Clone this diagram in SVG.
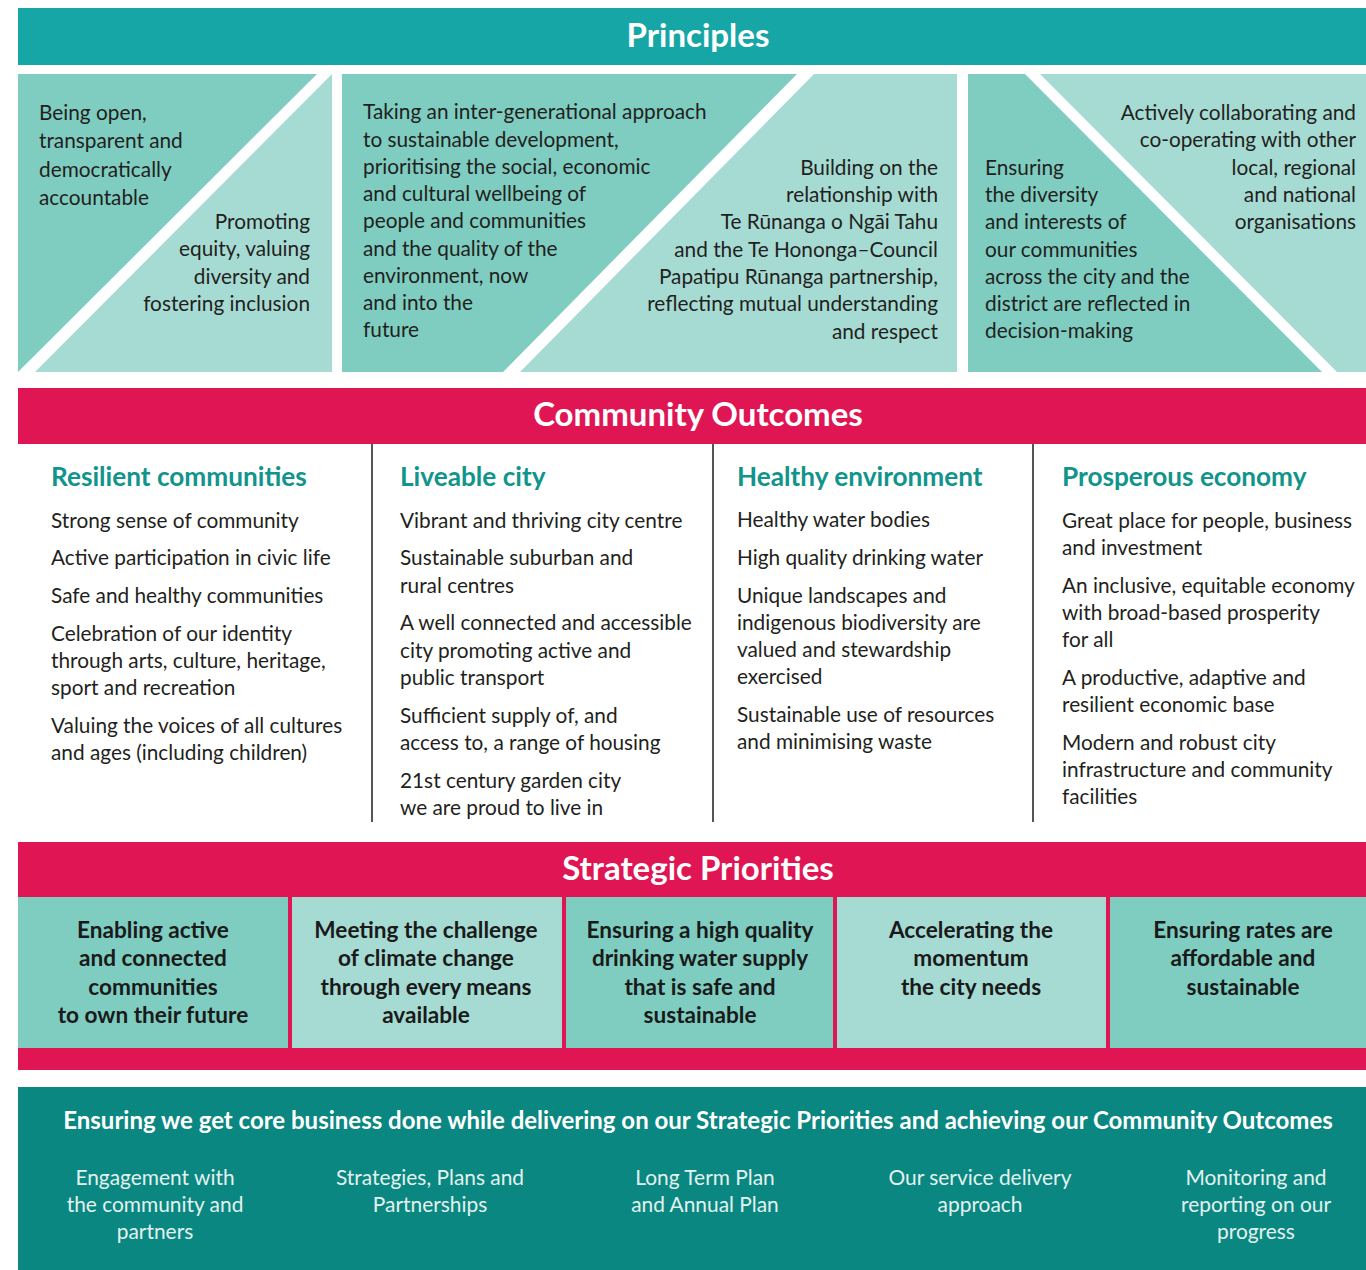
<svg xmlns="http://www.w3.org/2000/svg" width="1366" height="1270" viewBox="0 0 1366 1270">
<style>
.t{font-family:Lato,"Noto Sans","Liberation Sans",sans-serif;font-size:20.8px;fill:#231f20}
.r{text-anchor:end}
.m{text-anchor:middle}
.hd{font-family:Lato,"Noto Sans","Liberation Sans",sans-serif;font-weight:bold;font-size:33px;fill:#fff;text-anchor:middle}
.ch{font-family:Lato,"Noto Sans","Liberation Sans",sans-serif;font-weight:bold;font-size:26.2px;fill:#10948c}
.sp{font-family:Lato,"Noto Sans","Liberation Sans",sans-serif;font-weight:bold;font-size:22.6px;fill:#1a1a1a;text-anchor:middle}
.bt{font-family:Lato,"Noto Sans","Liberation Sans",sans-serif;font-size:20.9px;fill:#e2f2ef;text-anchor:middle}
.dk{fill:#7ecdc0}
.lt{fill:#a6dbd3}
.red{fill:#e01553}
.div{stroke:#555;stroke-width:2}
.wdiv{stroke:#fff;stroke-width:3}
</style>
<rect width="1366" height="1270" fill="#fff"/>

<g id="principles-header">
<rect x="18" y="8" width="1348" height="57" fill="#16a6a6"/>
<text class="hd" x="698" y="47">Principles</text>
</g>

<g id="principle-1">
<polygon class="dk" points="18,74 317,74 18,372"/>
<polygon class="lt" points="332,74 332,372 35,372"/>
<text class="t" x="39" y="120">Being open,</text>
<text class="t" x="39" y="148">transparent and</text>
<text class="t" x="39" y="177">democratically</text>
<text class="t" x="39" y="205">accountable</text>
</g>
<g id="principle-2">
<text class="t r" x="310" y="229">Promoting</text>
<text class="t r" x="310" y="256">equity, valuing</text>
<text class="t r" x="310" y="284">diversity and</text>
<text class="t r" x="310" y="311">fostering inclusion</text>
</g>

<g id="principle-3">
<polygon class="dk" points="342,74 797,74 503,372 342,372"/>
<polygon class="lt" points="814,74 957,74 957,372 520,372"/>
<text class="t" x="363" y="119">Taking an inter-generational approach</text>
<text class="t" x="363" y="147">to sustainable development,</text>
<text class="t" x="363" y="174">prioritising the social, economic</text>
<text class="t" x="363" y="201">and cultural wellbeing of</text>
<text class="t" x="363" y="228">people and communities</text>
<text class="t" x="363" y="256">and the quality of the</text>
<text class="t" x="363" y="283">environment, now</text>
<text class="t" x="363" y="310">and into the</text>
<text class="t" x="363" y="337">future</text>
</g>
<g id="principle-4">
<text class="t r" x="938" y="175">Building on the</text>
<text class="t r" x="938" y="202">relationship with</text>
<text class="t r" x="938" y="229">Te Rūnanga o Ngāi Tahu</text>
<text class="t r" x="938" y="257">and the Te Hononga–Council</text>
<text class="t r" x="938" y="284">Papatipu Rūnanga partnership,</text>
<text class="t r" x="938" y="311">reflecting mutual understanding</text>
<text class="t r" x="938" y="339">and respect</text>
</g>

<g id="principle-5">
<polygon class="dk" points="968,74 1025,74 1322,372 968,372"/>
<polygon class="lt" points="1040,74 1366,74 1366,372 1337,372"/>
<text class="t" x="985" y="175">Ensuring</text>
<text class="t" x="985" y="202">the diversity</text>
<text class="t" x="985" y="229">and interests of</text>
<text class="t" x="985" y="257">our communities</text>
<text class="t" x="985" y="284">across the city and the</text>
<text class="t" x="985" y="311">district are reflected in</text>
<text class="t" x="985" y="338">decision-making</text>
</g>
<g id="principle-6">
<text class="t r" x="1356" y="120">Actively collaborating and</text>
<text class="t r" x="1356" y="147">co-operating with other</text>
<text class="t r" x="1356" y="175">local, regional</text>
<text class="t r" x="1356" y="202">and national</text>
<text class="t r" x="1356" y="229">organisations</text>
</g>

<g id="outcomes-header">
<rect class="red" x="18" y="388" width="1348" height="56"/>
<text class="hd" x="698" y="426">Community Outcomes</text>
</g>

<g id="connectors">
<line class="div" x1="372" y1="444" x2="372" y2="822"/>
<line class="div" x1="713" y1="444" x2="713" y2="822"/>
<line class="div" x1="1033" y1="444" x2="1033" y2="822"/>
<line class="wdiv" x1="293" y1="1150" x2="293" y2="1262"/>
<line class="wdiv" x1="568" y1="1150" x2="568" y2="1262"/>
<line class="wdiv" x1="843" y1="1150" x2="843" y2="1262"/>
<line class="wdiv" x1="1118" y1="1150" x2="1118" y2="1262"/>
</g>

<g id="outcome-resilient">
<text class="ch" x="51" y="486">Resilient communities</text>
<text class="t" x="51" y="528">Strong sense of community</text>
<text class="t" x="51" y="565">Active participation in civic life</text>
<text class="t" x="51" y="603">Safe and healthy communities</text>
<text class="t" x="51" y="641">Celebration of our identity</text>
<text class="t" x="51" y="668">through arts, culture, heritage,</text>
<text class="t" x="51" y="695">sport and recreation</text>
<text class="t" x="51" y="733">Valuing the voices of all cultures</text>
<text class="t" x="51" y="760">and ages (including children)</text>
</g>

<g id="outcome-liveable">
<text class="ch" x="400" y="486">Liveable city</text>
<text class="t" x="400" y="528">Vibrant and thriving city centre</text>
<text class="t" x="400" y="565">Sustainable suburban and</text>
<text class="t" x="400" y="593">rural centres</text>
<text class="t" x="400" y="630">A well connected and accessible</text>
<text class="t" x="400" y="658">city promoting active and</text>
<text class="t" x="400" y="685">public transport</text>
<text class="t" x="400" y="723">Sufficient supply of, and</text>
<text class="t" x="400" y="750">access to, a range of housing</text>
<text class="t" x="400" y="788">21st century garden city</text>
<text class="t" x="400" y="815">we are proud to live in</text>
</g>

<g id="outcome-healthy">
<text class="ch" x="737" y="486">Healthy environment</text>
<text class="t" x="737" y="527">Healthy water bodies</text>
<text class="t" x="737" y="565">High quality drinking water</text>
<text class="t" x="737" y="603">Unique landscapes and</text>
<text class="t" x="737" y="630">indigenous biodiversity are</text>
<text class="t" x="737" y="657">valued and stewardship</text>
<text class="t" x="737" y="684">exercised</text>
<text class="t" x="737" y="722">Sustainable use of resources</text>
<text class="t" x="737" y="749">and minimising waste</text>
</g>

<g id="outcome-prosperous">
<text class="ch" x="1062" y="486">Prosperous economy</text>
<text class="t" x="1062" y="528">Great place for people, business</text>
<text class="t" x="1062" y="555">and investment</text>
<text class="t" x="1062" y="593">An inclusive, equitable economy</text>
<text class="t" x="1062" y="620">with broad-based prosperity</text>
<text class="t" x="1062" y="647">for all</text>
<text class="t" x="1062" y="685">A productive, adaptive and</text>
<text class="t" x="1062" y="712">resilient economic base</text>
<text class="t" x="1062" y="750">Modern and robust city</text>
<text class="t" x="1062" y="777">infrastructure and community</text>
<text class="t" x="1062" y="804">facilities</text>
</g>

<g id="priorities-header">
<rect class="red" x="18" y="842" width="1348" height="228"/>
<text class="hd" x="698" y="880">Strategic Priorities</text>
</g>

<g id="priority-1">
<rect class="dk" x="18" y="897" width="270" height="151"/>
<text class="sp" x="153" y="938">Enabling active</text>
<text class="sp" x="153" y="966">and connected</text>
<text class="sp" x="153" y="995">communities</text>
<text class="sp" x="153" y="1023">to own their future</text>
</g>
<g id="priority-2">
<rect class="lt" x="292" y="897" width="270" height="151"/>
<text class="sp" x="426" y="938">Meeting the challenge</text>
<text class="sp" x="426" y="966">of climate change</text>
<text class="sp" x="426" y="995">through every means</text>
<text class="sp" x="426" y="1023">available</text>
</g>
<g id="priority-3">
<rect class="dk" x="566" y="897" width="267" height="151"/>
<text class="sp" x="700" y="938">Ensuring a high quality</text>
<text class="sp" x="700" y="966">drinking water supply</text>
<text class="sp" x="700" y="995">that is safe and</text>
<text class="sp" x="700" y="1023">sustainable</text>
</g>
<g id="priority-4">
<rect class="lt" x="837" y="897" width="269" height="151"/>
<text class="sp" x="971" y="938">Accelerating the</text>
<text class="sp" x="971" y="966">momentum</text>
<text class="sp" x="971" y="995">the city needs</text>
</g>
<g id="priority-5">
<rect class="dk" x="1110" y="897" width="256" height="151"/>
<text class="sp" x="1243" y="938">Ensuring rates are</text>
<text class="sp" x="1243" y="966">affordable and</text>
<text class="sp" x="1243" y="995">sustainable</text>
</g>

<g id="core-business">
<rect x="18" y="1087" width="1348" height="183" fill="#0b8781"/>
<text x="698" y="1129" style="font-family:Lato,'Noto Sans','Liberation Sans',sans-serif;font-weight:bold;font-size:24px;fill:#fff;text-anchor:middle">Ensuring we get core business done while delivering on our Strategic Priorities and achieving our Community Outcomes</text>
</g>
<g id="core-1">
<text class="bt" x="155" y="1185">Engagement with</text>
<text class="bt" x="155" y="1212">the community and</text>
<text class="bt" x="155" y="1239">partners</text>
</g>
<g id="core-2">
<text class="bt" x="430" y="1185">Strategies, Plans and</text>
<text class="bt" x="430" y="1212">Partnerships</text>
</g>
<g id="core-3">
<text class="bt" x="705" y="1185">Long Term Plan</text>
<text class="bt" x="705" y="1212">and Annual Plan</text>
</g>
<g id="core-4">
<text class="bt" x="980" y="1185">Our service delivery</text>
<text class="bt" x="980" y="1212">approach</text>
</g>
<g id="core-5">
<text class="bt" x="1256" y="1185">Monitoring and</text>
<text class="bt" x="1256" y="1212">reporting on our</text>
<text class="bt" x="1256" y="1239">progress</text>
</g>
</svg>
